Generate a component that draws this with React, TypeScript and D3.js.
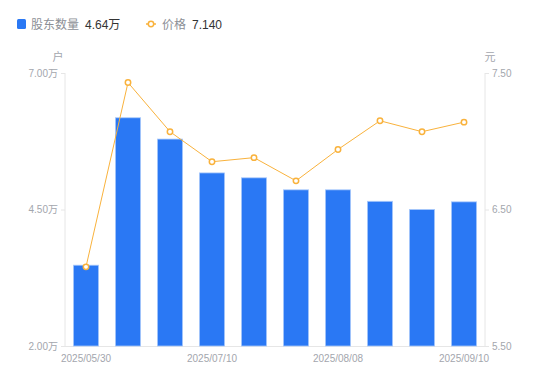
import React from "react";
import * as d3 from "d3";

const dates = ["2025/05/30", "2025/06/10", "2025/06/20", "2025/07/10", "2025/07/20", "2025/07/31", "2025/08/08", "2025/08/20", "2025/08/31", "2025/09/10"];
const holders = [3.48, 6.18, 5.79, 5.17, 5.08, 4.86, 4.86, 4.65, 4.5, 4.64];
const prices = [6.08, 7.43, 7.07, 6.85, 6.88, 6.71, 6.94, 7.15, 7.07, 7.14];
const leftTicks = [2.0, 4.5, 7.0];
const rightTicks = [5.5, 6.5, 7.5];
const shownLabels = [0, 3, 6, 9];

const W = 550, H = 381;
const left = 65, right = 485, top = 73, bottom = 346;
const font = "'Liberation Sans', 'Noto Sans CJK SC', sans-serif";
const barColor = "#2a78f4";
const lineColor = "#f9b23c";
const gridColor = "#e6e6e6";
const labelColor = "#a3a6ad";

export default function App() {
  const x = d3.scaleBand<string>().domain(dates).range([left, right]).paddingInner(0.4).paddingOuter(0.2);
  const xc = (d: string) => (x(d) as number) + x.bandwidth() / 2;
  const yL = d3.scaleLinear().domain([2, 7]).range([bottom, top]);
  const yR = d3.scaleLinear().domain([5.5, 7.5]).range([bottom, top]);
  const line = d3.line<number>().x((_, i) => xc(dates[i])).y((d) => yR(d));

  return (
    <svg width={W} height={H} style={{ position: "absolute", left: 0, top: 0, fontFamily: font }}>
      {/* legend */}
      <rect x={17} y={19} width={9} height={10} rx={1.5} fill={barColor} />
      <text x={31} y={28.5} fontSize={12} fill="#8c8f96">股东数量</text>
      <text x={85} y={28.5} fontSize={12} fill="#333">4.64万</text>
      <line x1={146} x2={156} y1={24} y2={24} stroke={lineColor} strokeWidth={1.5} />
      <circle cx={151} cy={24} r={2.7} fill="#fff" stroke={lineColor} strokeWidth={1.5} />
      <text x={162} y={28.5} fontSize={12} fill="#8c8f96">价格</text>
      <text x={192} y={28.5} fontSize={12} fill="#333">7.140</text>

      {/* axis units */}
      <text x={58} y={61} fontSize={11} fill={labelColor} textAnchor="middle">户</text>
      <text x={490} y={61} fontSize={11} fill={labelColor} textAnchor="middle">元</text>

      {/* axes */}
      <line x1={left} x2={left} y1={top} y2={bottom} stroke={gridColor} />
      <line x1={right} x2={right} y1={top} y2={bottom} stroke={gridColor} />
      <line x1={left} x2={right} y1={bottom + 0.5} y2={bottom + 0.5} stroke={gridColor} />
      {leftTicks.map((t) => (
        <g key={"l" + t}>
          <line x1={left - 4} x2={left} y1={yL(t) + 0.5} y2={yL(t) + 0.5} stroke={gridColor} />
          <text x={left - 7} y={yL(t) + 3.5} fontSize={10} fill={labelColor} textAnchor="end">{t.toFixed(2)}万</text>
        </g>
      ))}
      {rightTicks.map((t) => (
        <g key={"r" + t}>
          <line x1={right} x2={right + 4} y1={yR(t) + 0.5} y2={yR(t) + 0.5} stroke={gridColor} />
          <text x={right + 7} y={yR(t) + 3.5} fontSize={10} fill={labelColor}>{t.toFixed(2)}</text>
        </g>
      ))}
      {shownLabels.map((i) => (
        <text key={"x" + i} x={xc(dates[i])} y={362} fontSize={10} fill={labelColor} textAnchor="middle">{dates[i]}</text>
      ))}

      {/* bars */}
      {holders.map((v, i) => (
        <rect key={"b" + i} x={x(dates[i])} y={yL(v)} width={x.bandwidth()} height={bottom - yL(v)} fill={barColor} stroke="#a9c9fb" strokeWidth={0.8} />
      ))}

      {/* line */}
      <path d={line(prices) || ""} fill="none" stroke={lineColor} strokeWidth={1} />
      {prices.map((v, i) => (
        <circle key={"p" + i} cx={xc(dates[i])} cy={yR(v)} r={2.7} fill="#fff" stroke={lineColor} strokeWidth={1.5} />
      ))}
    </svg>
  );
}
